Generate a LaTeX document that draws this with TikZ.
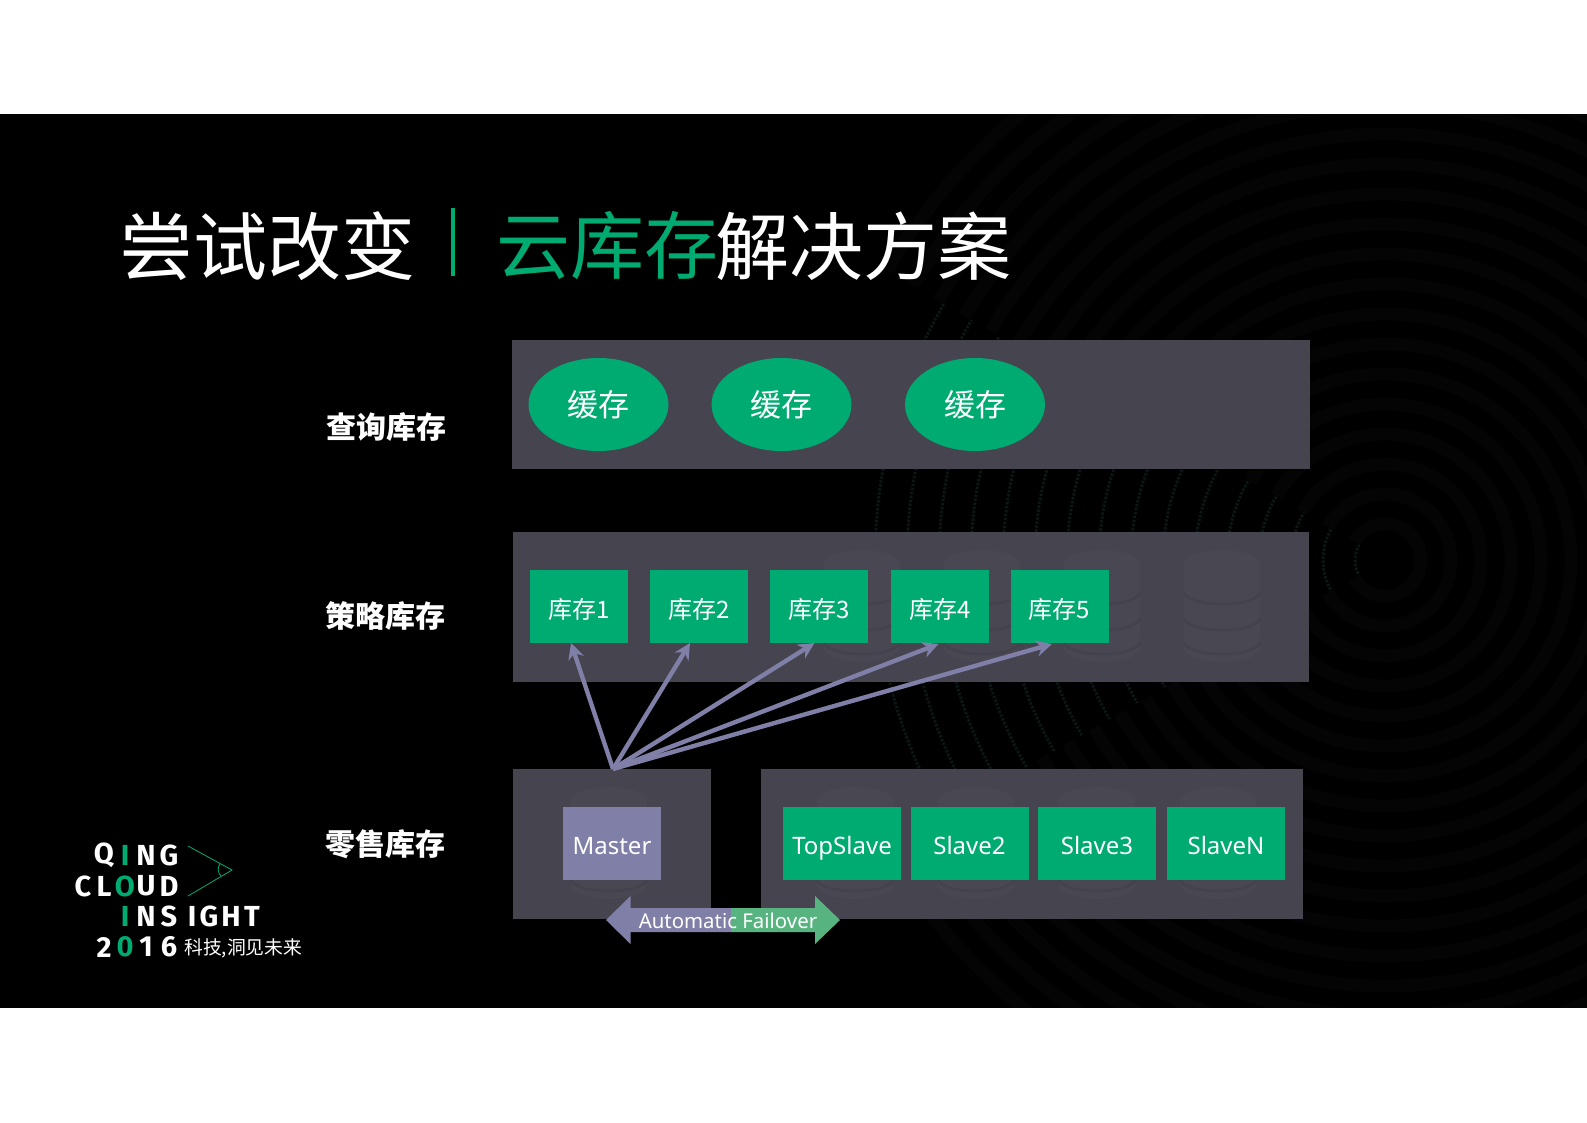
\documentclass[tikz,border=0pt]{standalone}
\usepackage{fontspec}
\setmainfont{Noto Sans}
\newfontfamily\cjk{Noto Sans CJK SC}
\newfontfamily\logofont{Fira Sans}[Scale=1]
\usetikzlibrary{arrows.meta,calc,shapes.geometric}
\definecolor{panelc}{HTML}{45444F}
\definecolor{iconc}{HTML}{484752}
\definecolor{icongap}{HTML}{43424D}
\definecolor{greenc}{HTML}{00AB72}
\definecolor{purplec}{HTML}{807FA8}
\definecolor{lightgreen}{HTML}{57B480}
\definecolor{ringc}{HTML}{040404}
\definecolor{dotc}{HTML}{0B1714}
\tikzset{
  panel/.style={fill=panelc,inner sep=0pt,outer sep=0pt},
  gbox/.style={fill=greenc,text=white,inner sep=0pt,outer sep=0pt,minimum height=73,minimum width=98,text height=23.6pt,text depth=0pt,font=\cjk\fontsize{24}{26}\selectfont},
  sbox/.style={gbox,minimum width=118,text height=21pt,text depth=0pt,font=\fontsize{24}{26}\selectfont},
  cache/.style={ellipse,fill=greenc,text=white,inner sep=0pt,minimum width=140,minimum height=93,font=\cjk\fontsize{31}{33}\selectfont},
  rowlabel/.style={text=white,inner sep=0pt,font=\cjk\bfseries\fontsize{30}{32}\selectfont},
  titletext/.style={inner sep=0pt,anchor=west,font=\cjk\fontsize{74}{78}\selectfont},
  fan/.style={draw=purplec,line width=4.4pt,-{Stealth[length=16pt,width=16pt]},shorten >=0pt},
  logo/.style={text=white,inner sep=0pt,font=\logofont\bfseries\fontsize{29}{30}\selectfont},
  logog/.style={logo,text=greenc},
}
\newcommand{\dbicon}[2]{%
  \begin{scope}[shift={(#1,#2)}]
    \fill[iconc] (-38,-42) arc[start angle=180,end angle=360,x radius=38,y radius=14] -- (38,42) arc[start angle=0,end angle=180,x radius=38,y radius=14] -- cycle;
    \foreach \yy in {-14,12,36}{
      \draw[icongap,line width=2.5pt] (-38,\yy) arc[start angle=180,end angle=0,x radius=38,y radius=12];
    }
  \end{scope}}
\begin{document}
\begin{tikzpicture}[x=1pt,y=-1pt]
\useasboundingbox (0,0) rectangle (1587,1122);
\fill[white] (0,0) rectangle (1587,1122);
\fill[black] (0,114) rectangle (1587,1008);
% faint background texture
\begin{scope}
  \clip (0,114) rectangle (1587,1007);
  \foreach \r in {36,66,...,600}{
    \draw[ringc,line width=13pt] (1385,560) circle[radius=\r];
  }
  \begin{scope}
    \clip (1385,560) -- (635,125) -- (0,125) -- (0,1007) -- (610,1007) -- cycle;
    \fill[black] (0,114) rectangle (1587,1007);
    \foreach \r in {30,62,...,510}{
      \draw[dotc,line width=3pt,dash pattern=on 2.5pt off 1.5pt] (1385,560) circle[radius=\r];
    }
    \fill[black] (0,114) rectangle (860,1007);
  \end{scope}
\end{scope}
% title
\node[titletext,text=white] (t1) at (119,246) {尝试改变};
\fill[greenc] (450.5,207.5) rectangle (454.5,276);
\node[titletext,text=greenc] (t2) at (496,246) {云库存};
\node[titletext,text=white] (t3) at (715,246) {解决方案};
% panels
\node[panel,minimum width=798,minimum height=129] (p1) at (911,404.5) {};
\node[panel,minimum width=796,minimum height=150.5] (p2) at (911,607) {};
\node[panel,minimum width=198,minimum height=150] (p3) at (612,844) {};
\node[panel,minimum width=542,minimum height=150] (p4) at (1032,844) {};
% faint database icons
\foreach \x in {862,982,1102,1222}{\dbicon{\x}{606}}
\dbicon{609}{843}
\foreach \x in {855,976,1097,1218}{\dbicon{\x}{843}}
% row labels
\node[rowlabel] (l1) at (386,427) {查询库存};
\node[rowlabel] (l2) at (385,616) {策略库存};
\node[rowlabel] (l3) at (385,844) {零售库存};
% caches
\node[cache] (c1) at (598.5,404.5) {缓存};
\node[cache] (c2) at (781.5,404.5) {缓存};
\node[cache] (c3) at (975,404.5) {缓存};
% stock boxes
\node[gbox] (k1) at (579,606.5) {库存1};
\node[gbox] (k2) at (699,606.5) {库存2};
\node[gbox] (k3) at (819,606.5) {库存3};
\node[gbox] (k4) at (940,606.5) {库存4};
\node[gbox] (k5) at (1059.5,606.5) {库存5};
% master and slaves
\node[sbox,fill=purplec,minimum width=98] (m) at (612,843.5) {Master};
\node[sbox] (s1) at (842,843.5) {TopSlave};
\node[sbox] (s2) at (969.5,843.5) {Slave2};
\node[sbox] (s3) at (1097,843.5) {Slave3};
\node[sbox] (s4) at (1226,843.5) {SlaveN};
% fan arrows
\draw[fan] ([xshift=1pt]p3.north) -- ([xshift=-8pt]k1.south);
\draw[fan] ([xshift=1pt]p3.north) -- ([xshift=-9pt]k2.south);
\draw[fan] ([xshift=1pt]p3.north) -- ([xshift=-4.5pt]k3.south);
\draw[fan] ([xshift=1pt]p3.north) -- ([xshift=-1.5pt,yshift=-1pt]k4.south);
\draw[fan] ([xshift=1pt]p3.north) -- ([xshift=-7.5pt,yshift=-1pt]k5.south);
% failover arrow
\fill[purplec] (606,920) -- (630.5,896) -- (630.5,908) -- (731,908) -- (731,932) -- (630.5,932) -- (630.5,944) -- cycle;
\fill[lightgreen] (840,920) -- (815,896) -- (815,908) -- (731,908) -- (731,932) -- (815,932) -- (815,944) -- cycle;
\node[text=white,inner sep=0pt,font=\fontsize{20.4}{23}\selectfont] (fail) at (728,921) {Automatic Failover};
% logo
\foreach \ch/\x/\st/\n in {Q/104/logo/a,I/125/logog/b,N/146/logo/c,G/169/logo/d}{\node[\st] (q\n) at (\x,855.5) {\ch};}
\foreach \ch/\x/\st/\n in {C/83/logo/a,L/104/logo/b,O/125/logog/c,U/146/logo/d,D/169/logo/e}{\node[\st] (u\n) at (\x,886) {\ch};}
\foreach \ch/\x/\st/\n in {I/125/logog/a,N/146/logo/b,S/169/logo/c,I/192/logo/d,G/209/logo/e,H/231/logo/f,T/252/logo/g}{\node[\st] (i\n) at (\x,916.5) {\ch};}
\foreach \ch/\x/\st/\n in {2/104/logo/a,0/125/logog/b,1/146/logo/c,6/169/logo/d}{\node[\st] (y\n) at (\x,947) {\ch};}
\node[text=white,inner sep=0pt,anchor=west,font=\cjk\fontsize{18.8}{22}\selectfont] (slogan) at (184,948) {科技,洞见未来};
\coordinate (la) at (188,846);
\coordinate (lb) at (232,870);
\coordinate (lc) at (188,896);
\draw[greenc,line width=0.8pt] (la) -- (lb) -- (lc);
\draw[greenc,line width=0.8pt] (220,864) .. controls (217,868) and (218,873) .. (221,876);
\end{tikzpicture}
\end{document}
